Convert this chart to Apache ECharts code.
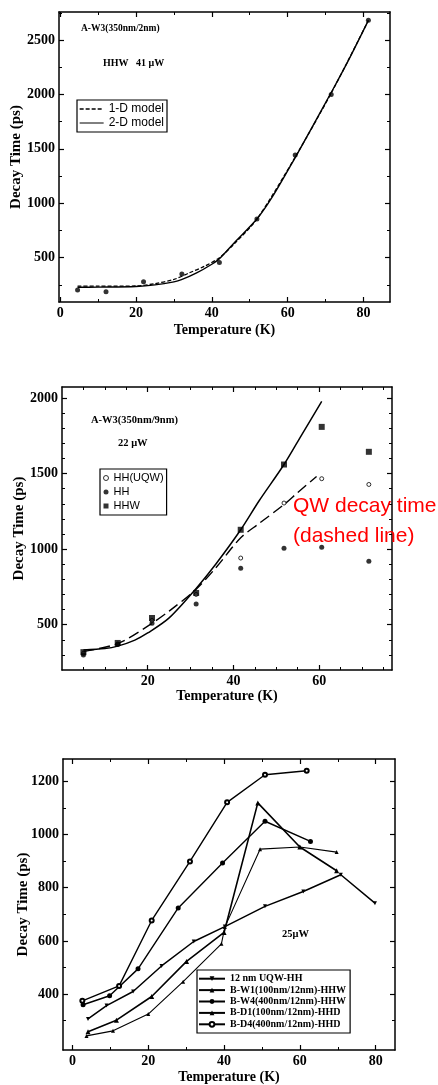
<!DOCTYPE html>
<html><head><meta charset="utf-8">
<script src="https://cdn.jsdelivr.net/npm/echarts@6/dist/echarts.min.js"></script>
<style>html,body{margin:0;padding:0;background:#fff}#c{width:438px;height:1085px}</style>
</head><body><div id="c"></div>
<script>
// ---------- Panel 1: A-W3(350nm/2nm), HHW 41 uW ----------
const p1Temp = [4.6, 12.1, 22.0, 32.1, 42.0, 51.9, 62.0, 71.5, 81.3];
const p1Decay = [203, 188, 280, 350, 457, 855, 1444, 2000, 2682];
const p1Model1DTemp = [4.6, 10, 20, 25, 30, 34, 38, 42, 46, 52, 62, 72, 81.3];
const p1Model1DDecay = [238, 238, 240, 262, 300, 360, 420, 500, 630, 860, 1425, 2045, 2680];
const p1Model2DTemp = [4.6, 10, 20, 25, 30, 32, 36, 40, 42, 46, 52, 56, 62, 66, 72, 76, 81.3];
const p1Model2DDecay = [228, 230, 236, 250, 278, 298, 360, 440, 490, 640, 860, 1060, 1420, 1670, 2050, 2310, 2680];
const p1XTicks = [0, 20, 40, 60, 80];
const p1XMinor = [10, 30, 50, 70];
const p1YTicks = [500, 1000, 1500, 2000, 2500];
const p1YMinor = [250, 750, 1250, 1750, 2250, 2750];

// ---------- Panel 2: A-W3(350nm/9nm), 22 uW ----------
const p2Temp = [5, 13, 21, 31.3, 41.7, 51.8, 60.6, 71.6];
const p2HHUQW = [310, 372, 528, 700, 941, 1305, 1466, 1428];
const p2HH = [300, 368, 510, 637, 873, 1005, 1013, 919];
const p2HHW = [318, 379, 544, 710, 1128, 1560, 1809, 1644];
const p2SolidTemp = [5, 10, 13, 17, 20, 25, 31.3, 36, 41.7, 46, 51.8, 56, 60.6];
const p2SolidDecay = [332, 342, 358, 398, 445, 545, 740, 905, 1128, 1320, 1560, 1760, 1978];
const p2DashTemp = [5, 13, 20, 25, 31.3, 36, 41.7, 46, 51.8, 55, 59.4];
const p2DashDecay = [322, 375, 490, 590, 735, 880, 1075, 1170, 1295, 1375, 1481];
const p2XTicks = [20, 40, 60];
const p2XMinor = [5, 10, 15, 25, 30, 35, 45, 50, 55, 65, 70, 75];
const p2YTicks = [500, 1000, 1500, 2000];
const p2YMinor = [300, 400, 600, 700, 800, 900, 1100, 1200, 1300, 1400, 1600, 1700, 1800, 1900];

// ---------- Panel 3: 25 uW ----------
const p3UQWTemp = [4.1, 9.0, 16.0, 23.5, 32.0, 40.2, 50.8, 60.9, 70.8, 79.8];
const p3UQWDecay = [307, 357, 410, 506, 598, 654, 730, 786, 849, 742];
const p3BW1Temp = [3.7, 10.7, 20.0, 29.2, 39.3, 40.2, 49.5, 60.0, 69.7];
const p3BW1Decay = [243, 262, 325, 447, 589, 652, 945, 953, 934];
const p3BW4Temp = [2.8, 9.8, 17.3, 27.9, 39.6, 50.8, 62.8];
const p3BW4Decay = [360, 394, 495, 724, 893, 1050, 974];
const p3BD1Temp = [4.1, 11.6, 20.9, 30.1, 40.0, 48.9, 60.0, 69.7];
const p3BD1Decay = [259, 302, 391, 523, 632, 1119, 953, 864];
const p3BD4Temp = [2.6, 12.3, 20.9, 31.0, 40.8, 50.8, 61.8];
const p3BD4Decay = [375, 431, 677, 899, 1121, 1225, 1240];
const p3XTicks = [0, 20, 40, 60, 80];
const p3XMinor = [10, 30, 50, 70];
const p3YTicks = [400, 600, 800, 1000, 1200];
const p3YMinor = [300, 500, 700, 900, 1100];

const zip = (a, b) => a.map((v, i) => [v, b[i]]);
const SERIF = 'Liberation Serif';
const SANS = 'Liberation Sans';
const xAxes = [], yAxes = [];

function addAxes(g, xr, yr, xMaj, xMin, yMaj, yMin, names) {
  const line = {color: '#000', width: 1.5};
  const lbl = {show: true, fontFamily: SERIF, fontWeight: 'bold', fontSize: 14, color: '#000', margin: 4,
    formatter: (v) => String(Math.round(v))};
  const base = (min, max) => ({type: 'value', gridIndex: g, min, max, splitLine: {show: false}, scale: true});
  const xi = xAxes.length, yi = yAxes.length;
  xAxes.push(Object.assign(base(xr[0], xr[1]), {position: 'bottom',
    axisLine: {show: true, onZero: false, lineStyle: line},
    axisTick: {show: true, inside: true, length: 5, customValues: xMaj, lineStyle: {color: '#000', width: 1.2}},
    axisLabel: Object.assign({customValues: xMaj}, lbl),
    name: 'Temperature (K)', nameLocation: 'middle', nameGap: names.xGap,
    nameTextStyle: {fontFamily: SERIF, fontWeight: 'bold', fontSize: 14, color: '#000'}}));
  xAxes.push(Object.assign(base(xr[0], xr[1]), {position: 'bottom', axisLine: {show: false, onZero: false},
    axisTick: {show: true, inside: true, length: 3, customValues: xMin, lineStyle: {color: '#000', width: 1}},
    axisLabel: {show: false}}));
  xAxes.push(Object.assign(base(xr[0], xr[1]), {position: 'top',
    axisLine: {show: true, onZero: false, lineStyle: line},
    axisTick: {show: true, inside: true, length: 5, customValues: xMaj, lineStyle: {color: '#000', width: 1.2}},
    axisLabel: {show: false}}));
  xAxes.push(Object.assign(base(xr[0], xr[1]), {position: 'top', axisLine: {show: false, onZero: false},
    axisTick: {show: true, inside: true, length: 3, customValues: xMin, lineStyle: {color: '#000', width: 1}},
    axisLabel: {show: false}}));
  yAxes.push(Object.assign(base(yr[0], yr[1]), {position: 'left',
    axisLine: {show: true, onZero: false, lineStyle: line},
    axisTick: {show: true, inside: true, length: 5, customValues: yMaj, lineStyle: {color: '#000', width: 1.2}},
    axisLabel: Object.assign({customValues: yMaj}, lbl),
    name: 'Decay Time (ps)', nameLocation: 'middle', nameGap: names.yGap, nameMoveOverlap: false,
    nameTextStyle: {fontFamily: SERIF, fontWeight: 'bold', fontSize: 15, color: '#000'}}));
  yAxes.push(Object.assign(base(yr[0], yr[1]), {position: 'left', axisLine: {show: false, onZero: false},
    axisTick: {show: true, inside: true, length: 3, customValues: yMin, lineStyle: {color: '#000', width: 1}},
    axisLabel: {show: false}}));
  yAxes.push(Object.assign(base(yr[0], yr[1]), {position: 'right',
    axisLine: {show: true, onZero: false, lineStyle: line},
    axisTick: {show: true, inside: true, length: 5, customValues: yMaj, lineStyle: {color: '#000', width: 1.2}},
    axisLabel: {show: false}}));
  yAxes.push(Object.assign(base(yr[0], yr[1]), {position: 'right', axisLine: {show: false, onZero: false},
    axisTick: {show: true, inside: true, length: 3, customValues: yMin, lineStyle: {color: '#000', width: 1}},
    axisLabel: {show: false}}));
  return {x: xi, y: yi};
}

const a1 = addAxes(0, [-0.3, 87], [93, 2757], p1XTicks, p1XMinor, p1YTicks, p1YMinor, {xGap: 21, yGap: 35});
const a2 = addAxes(1, [0, 77], [200, 2073], p2XTicks, p2XMinor, p2YTicks, p2YMinor, {xGap: 18, yGap: 35});
const a3 = addAxes(2, [-2.5, 85.1], [190, 1284], p3XTicks, p3XMinor, p3YTicks, p3YMinor, {xGap: 20, yGap: 32});

const ax = (a) => ({xAxisIndex: a.x, yAxisIndex: a.y});
const lineS = (name, a, data, w, type, extra) => Object.assign({name, type: 'line', data, showSymbol: false, symbol: 'none',
  lineStyle: {color: '#000', width: w, type}, itemStyle: {color: '#000'}, z: 3}, ax(a), extra || {});

const series = [
  Object.assign({name: 'HHW data', type: 'scatter', data: zip(p1Temp, p1Decay), symbol: 'circle', symbolSize: 5,
    itemStyle: {color: '#000'}, z: 4}, ax(a1)),
  lineS('1-D model', a1, zip(p1Model1DTemp, p1Model1DDecay), 1.3, [4, 2], {smooth: 0.3}),
  lineS('2-D model', a1, zip(p1Model2DTemp, p1Model2DDecay), 1.4, 'solid', {smooth: 0.3}),
  lineS('HHW fit', a2, zip(p2SolidTemp, p2SolidDecay), 1.5, 'solid', {smooth: 0.3}),
  lineS('QW decay time', a2, zip(p2DashTemp, p2DashDecay), 1.4, [11, 5], {smooth: 0.3}),
  Object.assign({name: 'HH(UQW)', type: 'scatter', data: zip(p2Temp, p2HHUQW), symbol: 'circle', symbolSize: 4,
    itemStyle: {color: '#fff', borderColor: '#000', borderWidth: 1}, z: 4}, ax(a2)),
  Object.assign({name: 'HH', type: 'scatter', data: zip(p2Temp, p2HH), symbol: 'circle', symbolSize: 5,
    itemStyle: {color: '#000'}, z: 5}, ax(a2)),
  Object.assign({name: 'HHW', type: 'scatter', data: zip(p2Temp, p2HHW), symbol: 'rect', symbolSize: 6,
    itemStyle: {color: '#000'}, z: 5}, ax(a2)),
  lineS('12 nm UQW-HH', a3, zip(p3UQWTemp, p3UQWDecay), 1.5, 'solid',
    {showSymbol: true, symbol: 'triangle', symbolRotate: 180, symbolSize: 4}),
  lineS('B-W1(100nm/12nm)-HHW', a3, zip(p3BW1Temp, p3BW1Decay), 1.1, 'solid',
    {showSymbol: true, symbol: 'triangle', symbolSize: 4}),
  lineS('B-W4(400nm/12nm)-HHW', a3, zip(p3BW4Temp, p3BW4Decay), 1.4, 'solid',
    {showSymbol: true, symbol: 'circle', symbolSize: 5}),
  lineS('B-D1(100nm/12nm)-HHD', a3, zip(p3BD1Temp, p3BD1Decay), 1.6, 'solid',
    {showSymbol: true, symbol: 'triangle', symbolSize: 5}),
  lineS('B-D4(400nm/12nm)-HHD', a3, zip(p3BD4Temp, p3BD4Decay), 1.4, 'solid',
    {showSymbol: true, symbol: 'emptyCircle', symbolSize: 4, itemStyle: {color: '#000', borderColor: '#000'}}),
];

const legendBase = {orient: 'vertical', selectedMode: false, borderColor: '#000', borderWidth: 1.2,
  backgroundColor: '#fff', inactiveColor: '#000'};
const option = {
  animation: false,
  backgroundColor: '#fff',
  grid: [
    {left: 59, top: 12, width: 331, height: 290, outerBoundsMode: 'none', containLabel: false},
    {left: 62, top: 387, width: 330, height: 283, outerBoundsMode: 'none', containLabel: false},
    {left: 63, top: 759, width: 332, height: 291, outerBoundsMode: 'none', containLabel: false}
  ],
  xAxis: xAxes,
  yAxis: yAxes,
  series,
  legend: [
    Object.assign({}, legendBase, {left: 77, top: 100,
      data: [
        {name: '1-D model', itemStyle: {color: 'rgba(0,0,0,0)', borderWidth: 0}, lineStyle: {type: [4, 2], width: 1.3, color: '#000'}},
        {name: '2-D model', itemStyle: {color: 'rgba(0,0,0,0)', borderWidth: 0}, lineStyle: {type: 'solid', width: 1, color: '#000'}}
      ],
      padding: [2, 3, 2, 2], itemWidth: 24, itemHeight: 8, itemGap: 0,
      textStyle: {fontFamily: SANS, fontSize: 12, color: '#000', lineHeight: 14}}),
    Object.assign({}, legendBase, {left: 100, top: 469,
      data: [
        {name: 'HH(UQW)', icon: 'circle', itemStyle: {color: '#fff', borderColor: '#000', borderWidth: 1}},
        {name: 'HH', icon: 'circle'},
        {name: 'HHW', icon: 'rect'}
      ],
      padding: [2, 3, 2, 3], itemWidth: 5, itemHeight: 5, itemGap: 0,
      textStyle: {fontFamily: SANS, fontSize: 11, color: '#000', lineHeight: 14}}),
    Object.assign({}, legendBase, {left: 197, top: 970,
      data: ['12 nm UQW-HH', 'B-W1(100nm/12nm)-HHW', 'B-W4(400nm/12nm)-HHW', 'B-D1(100nm/12nm)-HHD', 'B-D4(400nm/12nm)-HHD'],
      padding: [3, 4, 3, 1], itemWidth: 26, itemHeight: 6, itemGap: 0,
      textStyle: {fontFamily: SERIF, fontWeight: 'bold', fontSize: 10, color: '#000', lineHeight: 11.4}})
  ],
  graphic: [
    {type: 'text', left: 81, top: 24, style: {text: 'A-W3(350nm/2nm)', fontFamily: SERIF, fontWeight: 'bold', fontSize: 9.5, fill: '#000'}},
    {type: 'text', left: 103, top: 58, style: {text: 'HHW   41 μW', fontFamily: SERIF, fontWeight: 'bold', fontSize: 10, fill: '#000'}},
    {type: 'text', left: 91, top: 415, style: {text: 'A-W3(350nm/9nm)', fontFamily: SERIF, fontWeight: 'bold', fontSize: 10.5, fill: '#000'}},
    {type: 'text', left: 118, top: 438, style: {text: '22 μW', fontFamily: SERIF, fontWeight: 'bold', fontSize: 10.5, fill: '#000'}},
    {type: 'text', left: 282, top: 929, style: {text: '25μW', fontFamily: SERIF, fontWeight: 'bold', fontSize: 10.5, fill: '#000'}},
    {type: 'text', left: 293, top: 491, z: 100, style: {text: 'QW decay time\n(dashed line)', fontFamily: SANS, fontSize: 21, lineHeight: 30, fill: '#ff0000'}}
  ]
};
const chart = echarts.init(document.getElementById('c'), null, {renderer: 'canvas'});
chart.setOption(option);
</script></body></html>
